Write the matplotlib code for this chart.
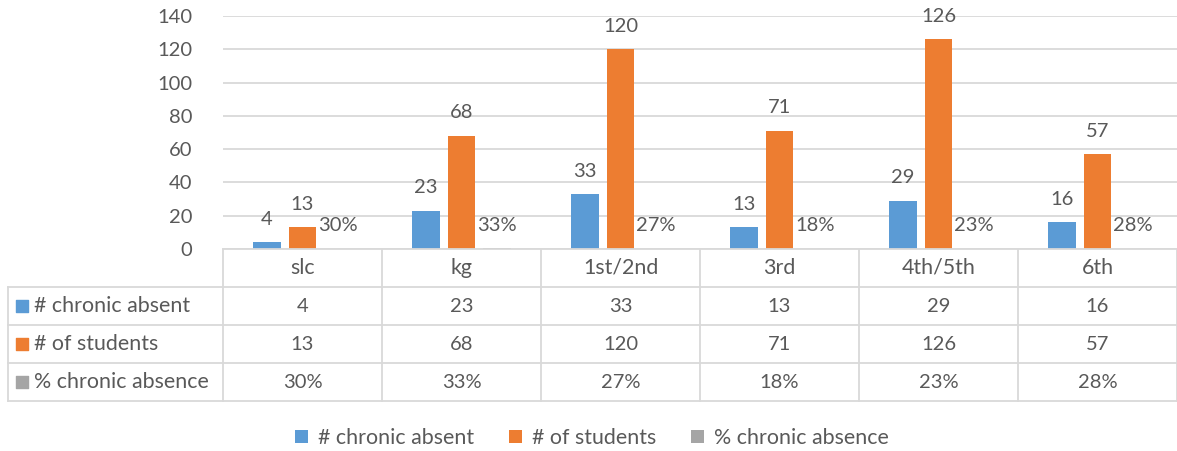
import matplotlib.pyplot as plt
from matplotlib.patches import Patch
import numpy as np

categories = ["slc", "kg", "1st/2nd", "3rd", "4th/5th", "6th"]
chronic_absent = [4, 23, 33, 13, 29, 16]
num_students = [13, 68, 120, 71, 126, 57]
pct_absence = [0.30, 0.33, 0.27, 0.18, 0.23, 0.28]
series_names = ["# chronic absent", "# of students", "% chronic absence"]
colors = ["#5b9bd5", "#ed7d31", "#a5a5a5"]

plt.rcParams['font.family'] = ['Lato', 'DejaVu Sans']
txt = "#595959"
grid_c = "#d9d9d9"
W, H = 1177, 451
fs_num = 14.5
fs_txt = 15.4

fig = plt.figure(figsize=(W / 100, H / 100), dpi=100)

# plot area in pixels
left_px, right_px, top_px, base_px, tbl_bot_px = 223, 1177, 16, 249, 401
ax = fig.add_axes([left_px / W, 1 - base_px / H, (right_px - left_px) / W, (base_px - top_px) / H])

x = np.arange(len(categories))
bw = 0.176
offs = [-0.224, 0.0, 0.224]
labels_fmt = [str, str, lambda v: f"{v:.0%}"]
for vals, off, col, fmt in zip([chronic_absent, num_students, pct_absence], offs, colors, labels_fmt):
    ax.bar(x + off, vals, bw, color=col, zorder=3)
    for xi, v in zip(x, vals):
        ax.annotate(fmt(v), (xi + off, v), xytext=(0, 23), textcoords='offset pixels',
                    ha='center', va='center', fontsize=fs_num, color=txt, zorder=4)

ax.set_xlim(-0.5, 5.5)
ax.set_ylim(0, 140)
ax.set_yticks(range(0, 141, 20))
ax.yaxis.grid(True, color=grid_c, linewidth=1.3, zorder=0)
ax.set_xticks([])
for s in ax.spines.values():
    s.set_visible(False)
ax.tick_params(axis='y', length=0, pad=22, labelsize=fs_num, labelcolor=txt)

# data table below the chart
tax = fig.add_axes([left_px / W, 1 - tbl_bot_px / H, (right_px - left_px) / W, (tbl_bot_px - base_px) / H])
tax.set_xlim(-0.5, 5.5)
tax.set_ylim(4, 0)
tax.axis('off')

def px2x(px):
    return -0.5 + (px - left_px) / ((right_px - left_px) / 6)

xl = px2x(8)
lw = 1.3
tax.plot([-0.5, 5.5], [0, 0], color=grid_c, lw=lw, clip_on=False)
for r in [1, 2, 3, 4]:
    tax.plot([xl, 5.5], [r, r], color=grid_c, lw=lw, clip_on=False)
tax.plot([xl, xl], [1, 4], color=grid_c, lw=lw, clip_on=False)
for b in np.arange(-0.5, 5.6, 1.0):
    tax.plot([b, b], [0, 4], color=grid_c, lw=lw, clip_on=False)

for xi, c in zip(x, categories):
    tax.text(xi, 0.5, c, ha='center', va='center', fontsize=fs_txt, color=txt)

rows = [[str(v) for v in chronic_absent], [str(v) for v in num_students],
        [f"{v:.0%}" for v in pct_absence]]
for r, (name, col, vals) in enumerate(zip(series_names, colors, rows), start=1):
    tax.scatter([px2x(22)], [r + 0.5], marker='s', s=70, color=col, clip_on=False)
    tax.text(px2x(34), r + 0.5, name, ha='left', va='center', fontsize=fs_txt, color=txt, clip_on=False)
    for xi, v in zip(x, vals):
        tax.text(xi, r + 0.5, v, ha='center', va='center', fontsize=fs_num, color=txt)

handles = [Patch(facecolor=c, label=n) for c, n in zip(colors, series_names)]
fig.legend(handles=handles, loc='center', bbox_to_anchor=(592 / W, 1 - 438 / H), ncol=3,
           frameon=False, fontsize=fs_txt, labelcolor=txt, handlelength=0.6, handleheight=0.6,
           handletextpad=0.5, columnspacing=1.6)

fig.savefig("out.png", dpi=100)
